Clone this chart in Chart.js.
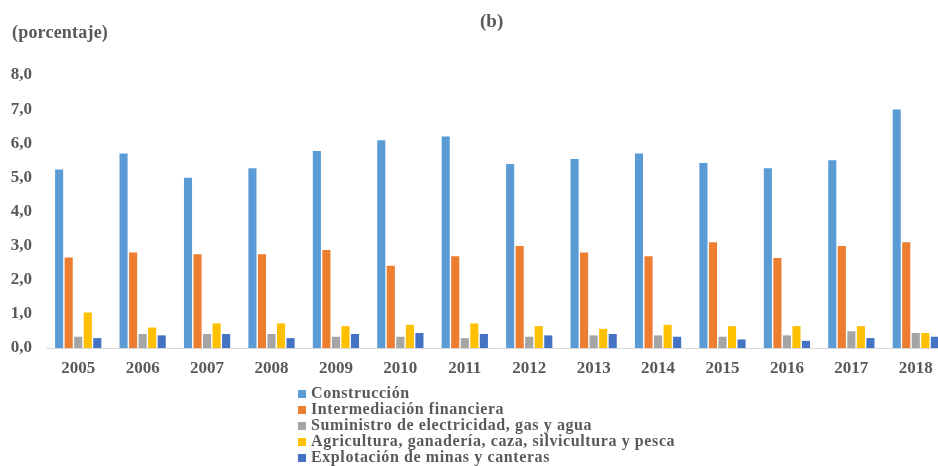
<!DOCTYPE html>
<html>
<head>
<meta charset="utf-8">
<script src="https://cdn.jsdelivr.net/npm/chart.js@4/dist/chart.umd.min.js"></script>
<style>
  html, body { margin:0; padding:0; background:#fff; width:938px; height:466px; overflow:hidden; }
  #wrap { position:relative; width:938px; height:466px; overflow:hidden; }
  canvas { position:absolute; left:0; top:0; }
  .txt { position:absolute; font-family:"Liberation Serif","Times New Roman",serif; font-weight:bold; color:#595959; white-space:nowrap; }
  #ylab { left:12px; top:22px; font-size:18px; letter-spacing:0.2px; }
  #ttl { left:480px; top:10px; font-size:19px; }
  #legend { position:absolute; left:298px; top:385px; font-family:"Liberation Serif","Times New Roman",serif; font-weight:bold; color:#595959; font-size:16px; letter-spacing:0.6px; }
  #legend div { height:16px; line-height:16px; white-space:nowrap; }
  #legend span.box { display:inline-block; width:8px; height:8px; margin-right:5px; vertical-align:0px; }
</style>
</head>
<body>
<div id="wrap">
  <canvas id="c" width="960" height="466"></canvas>
  <div class="txt" id="ylab">(porcentaje)</div>
  <div class="txt" id="ttl">(b)</div>
  <div id="legend"></div>
</div>
<script>
const years = ["2005","2006","2007","2008","2009","2010","2011","2012","2013","2014","2015","2016","2017","2018"];
const construccion   = [5.23, 5.70, 4.99, 5.27, 5.77, 6.09, 6.20, 5.39, 5.54, 5.70, 5.42, 5.27, 5.50, 6.99];
const intermediacion = [2.65, 2.80, 2.75, 2.75, 2.87, 2.41, 2.69, 2.99, 2.80, 2.69, 3.10, 2.64, 2.99, 3.10];
const suministro     = [0.33, 0.41, 0.41, 0.41, 0.33, 0.33, 0.29, 0.33, 0.37, 0.37, 0.33, 0.37, 0.49, 0.44];
const agricultura    = [1.04, 0.60, 0.72, 0.72, 0.64, 0.68, 0.72, 0.64, 0.56, 0.68, 0.64, 0.64, 0.64, 0.44];
const explotacion    = [0.29, 0.37, 0.41, 0.29, 0.41, 0.44, 0.41, 0.37, 0.41, 0.33, 0.25, 0.21, 0.29, 0.33];
const seriesNames = ["Construcción", "Intermediación financiera", "Suministro de electricidad, gas y agua", "Agricultura, ganadería, caza, silvicultura y pesca", "Explotación de minas y canteras"];
const yTicks = [0,1,2,3,4,5,6,7,8];

const colors = ["#5B9BD5", "#ED7D31", "#A5A5A5", "#FFC000", "#4472C4"];
const values = [construccion, intermediacion, suministro, agricultura, explotacion];

const datasets = seriesNames.map((n, i) => ({
  label: n,
  data: values[i],
  backgroundColor: colors[i],
  borderWidth: 0,
  categoryPercentage: 0.74,
  barPercentage: 0.85
}));

const lg = document.getElementById('legend');
seriesNames.forEach((n, i) => {
  const d = document.createElement('div');
  const b = document.createElement('span');
  b.className = 'box'; b.style.background = colors[i];
  d.appendChild(b);
  d.appendChild(document.createTextNode(n));
  lg.appendChild(d);
});

const fontFam = '"Liberation Serif","Times New Roman",serif';
new Chart(document.getElementById('c'), {
  type: 'bar',
  data: { labels: years, datasets },
  options: {
    responsive: false,
    animation: false,
    devicePixelRatio: 1,
    layout: { padding: { left: 0, right: 12, top: 75, bottom: 78 } },
    plugins: { legend: { display: false }, tooltip: { enabled: false }, title: { display: false } },
    scales: {
      x: {
        grid: { display: false, drawTicks: false },
        border: { display: true, color: '#D9D9D9', width: 1 },
        ticks: { color: '#595959', font: { family: fontFam, size: 17, weight: 'bold' }, padding: 10, maxRotation: 0 },
        afterFit: s => { s.height = 40; }
      },
      y: {
        min: 0, max: 8,
        afterBuildTicks: s => { s.ticks = yTicks.map(v => ({ value: v })); },
        grid: { display: false, drawTicks: false },
        border: { display: false },
        ticks: {
          color: '#595959', font: { family: fontFam, size: 17, weight: 'bold' }, padding: 14,
          callback: v => v.toFixed(1).replace('.', ',')
        },
        afterFit: s => { s.width = 46; }
      }
    }
  }
});
</script>
</body>
</html>
